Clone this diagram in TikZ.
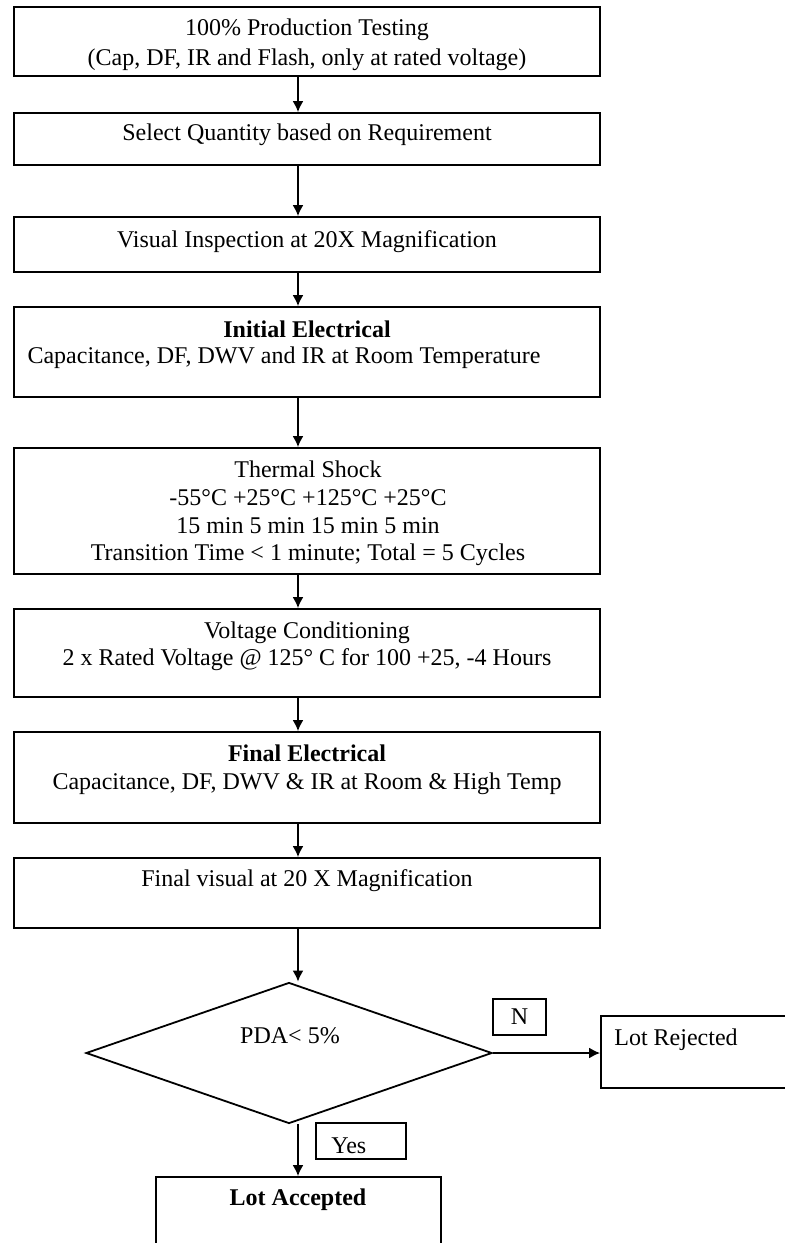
\documentclass[tikz,border=0pt]{standalone}
\usepackage{fontspec}
\setmainfont{Liberation Serif}
\usepackage{tikz}
\usetikzlibrary{arrows.meta,shapes.geometric}

\begin{document}
\begin{tikzpicture}[x=0.5pt,y=-0.5pt,
    box/.style={draw,line width=0.9pt,rectangle,inner sep=0pt},
    txt/.style={align=center,font=\fontsize{12}{14}\selectfont,inner sep=0pt},
    flow/.style={-{Latex[length=5.5pt,width=5.5pt]},line width=0.9pt}]
    \def\w{293pt};
    \def\dx{4.5pt};
    \clip (0,0) rectangle (785,1243);

    % process boxes
    \node[box,minimum width=\w,minimum height=34.5pt] at (307,41.5) (testing) {};
    \node[box,minimum width=\w,minimum height=26pt] at (307,139) (select) {};
    \node[box,minimum width=\w,minimum height=27.5pt] at (307,244.5) (visual) {};
    \node[box,minimum width=\w,minimum height=45pt] at (307,352) (initial) {};
    \node[box,minimum width=\w,minimum height=63pt] at (307,511) (shock) {};
    \node[box,minimum width=\w,minimum height=44pt] at (307,653) (cond) {};
    \node[box,minimum width=\w,minimum height=45.5pt] at (307,777.5) (final) {};
    \node[box,minimum width=\w,minimum height=35pt] at (307,893) (finalvis) {};

    % texts
    \node[txt,font=\fontsize{12}{15}\selectfont] at (307,45) (ttesting) {100\% Production Testing\\(Cap, DF, IR and Flash, only at rated voltage)};
    \node[txt] at (307,135) (tselect) {Select Quantity based on Requirement};
    \node[txt] at (307,242) (tvisual) {Visual Inspection at 20X Magnification};
    \node[txt] at (307,329) (tinitial) {\textbf{Initial Electrical}};
    \node[txt] at (284,358) (tinitial2) {Capacitance, DF, DWV and IR at Room Temperature};
    \node[txt,font=\fontsize{12}{13.9}\selectfont] at (308,513.5) (tshock) {Thermal Shock\\-55°C +25°C +125°C +25°C\\15 min 5 min 15 min 5 min\\Transition Time < 1 minute; Total = 5 Cycles};
    \node[txt,font=\fontsize{12}{13.6}\selectfont] at (307,646.5) (tcond) {Voltage Conditioning\\2 x Rated Voltage @ 125° C for 100 +25, -4 Hours};
    \node[txt] at (307,769.5) (tfinal) {\textbf{Final Electrical}\\Capacitance, DF, DWV \& IR at Room \& High Temp};
    \node[txt] at (307,881) (tfinalvis) {Final visual at 20 X Magnification};

    % decision
    \node[draw,diamond,line width=0.9pt,inner sep=0pt,minimum width=203pt,minimum height=70.5pt] at (289,1053) (pda) {};
    \node[txt] at (290,1036) (tpda) {PDA< 5\%};
    \node[box,txt,draw,line width=0.9pt,minimum width=26.5pt,minimum height=18pt] at (519.5,1017) (no) {N};
    \node[box,minimum width=45pt,minimum height=18pt] at (361,1141) (yes) {};
    \node[txt,anchor=west] at (331,1146) (tyes) {Yes};
    \node[box,minimum width=150pt,minimum height=36pt] at (751,1052) (rejected) {};
    \node[txt,anchor=west] at (614,1040) (trejected) {Lot Rejected};
    \node[box,minimum width=142.5pt,minimum height=61.5pt] at (298.5,1238.5) (accepted) {};
    \node[txt] at (298,1200) (taccepted) {\textbf{Lot Accepted}};

    % connectors
    \draw[flow] ([xshift=-\dx]testing.south) -- ([xshift=-\dx]select.north);
    \draw[flow] ([xshift=-\dx]select.south) -- ([xshift=-\dx]visual.north);
    \draw[flow] ([xshift=-\dx]visual.south) -- ([xshift=-\dx]initial.north);
    \draw[flow] ([xshift=-\dx]initial.south) -- ([xshift=-\dx]shock.north);
    \draw[flow] ([xshift=-\dx]shock.south) -- ([xshift=-\dx]cond.north);
    \draw[flow] ([xshift=-\dx]cond.south) -- ([xshift=-\dx]final.north);
    \draw[flow] ([xshift=-\dx]final.south) -- ([xshift=-\dx]finalvis.north);
    \draw[flow] ([xshift=-\dx]finalvis.south) -- ([xshift=-\dx]finalvis.south |- pda.north);
    \draw[flow] (pda.east) -- (pda.east -| rejected.west);
    \draw[flow] ([xshift=\dx]pda.south) -- ([xshift=\dx]pda.south |- accepted.north);
\end{tikzpicture}
\end{document}
